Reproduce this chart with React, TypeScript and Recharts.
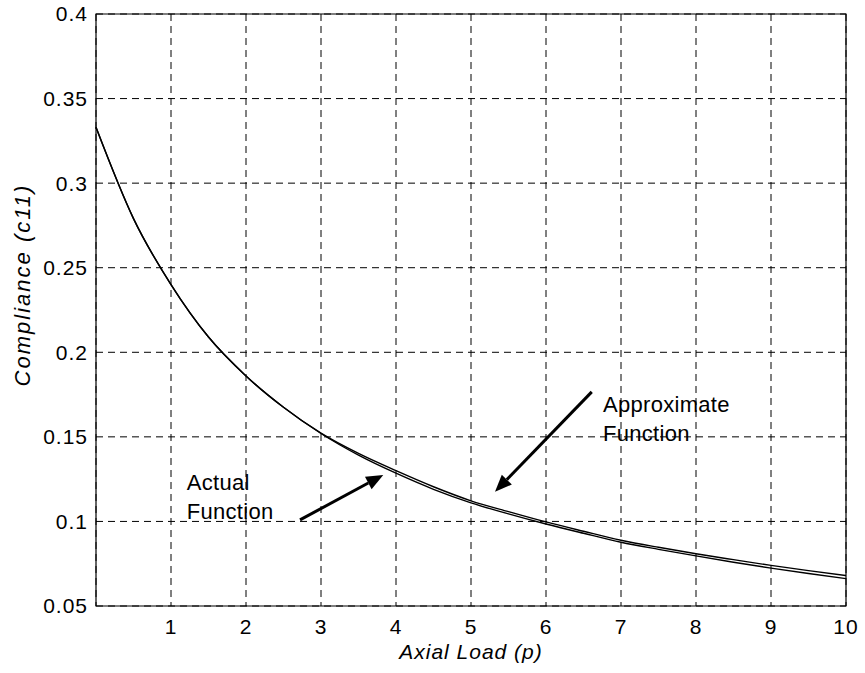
import React from 'react'
import {
  LineChart,
  Line,
  XAxis,
  YAxis,
  CartesianGrid,
  ReferenceArea,
  ReferenceLine,
  ReferenceDot,
} from 'recharts'

// axial load p, read at half-unit steps
const loads = [0, 0.5, 1, 1.5, 2, 2.5, 3, 3.5, 4, 4.5, 5, 5.5, 6, 6.5, 7, 7.5, 8, 8.5, 9, 9.5, 10]
const actualC11 = [
  0.333, 0.279, 0.24, 0.209, 0.186, 0.1675, 0.152, 0.1392, 0.1285, 0.119, 0.111, 0.1045, 0.0985, 0.093,
  0.0877, 0.0835, 0.0796, 0.0759, 0.0724, 0.0692, 0.0662,
]
const approxC11 = [
  0.333, 0.279, 0.24, 0.209, 0.186, 0.1675, 0.1522, 0.1402, 0.13, 0.1205, 0.1122, 0.1058, 0.0997,
  0.0942, 0.0889, 0.0847, 0.0809, 0.0774, 0.074, 0.0709, 0.068,
]

const xTicks = [1, 2, 3, 4, 5, 6, 7, 8, 9, 10]
const yTicks = [0.05, 0.1, 0.15, 0.2, 0.25, 0.3, 0.35, 0.4]

// annotation arrows: [from, to] in data coords
const approxArrow = [
  { x: 6.61, y: 0.1766 },
  { x: 5.32, y: 0.1175 },
]
const actualArrow = [
  { x: 2.72, y: 0.1009 },
  { x: 3.83, y: 0.1275 },
]

const data = loads.map((p, i) => ({ p, actual: actualC11[i], approx: approxC11[i] }))

const FONT = '"Liberation Sans", Arial, Helvetica, sans-serif'

const Arrow = (props: any) => {
  const { x1, y1, x2, y2 } = props
  const ang = Math.atan2(y2 - y1, x2 - x1)
  const len = 17
  const half = 7
  const bx = x2 - len * Math.cos(ang)
  const by = y2 - len * Math.sin(ang)
  const px = -Math.sin(ang) * half
  const py = Math.cos(ang) * half
  return (
    <g>
      <line x1={x1} y1={y1} x2={bx} y2={by} stroke="#000" strokeWidth={3} />
      <polygon points={`${x2},${y2} ${bx + px},${by + py} ${bx - px},${by - py}`} fill="#000" />
    </g>
  )
}

const twoLines = (lines: string[]) => (props: any) => {
  const { viewBox } = props
  return (
    <text x={viewBox.x} y={viewBox.y} fontSize={22} letterSpacing={0.3} fill="#000" fontFamily={FONT}>
      {lines.map((t, i) => (
        <tspan key={i} x={viewBox.x} dy={i === 0 ? 0 : 29}>
          {t}
        </tspan>
      ))}
    </text>
  )
}

const YLabel = () => (
  <text
    x={22}
    y={285}
    transform="rotate(-90, 22, 285)"
    textAnchor="middle"
    dominantBaseline="central"
    fontSize={22}
    letterSpacing={2}
    fontStyle="italic"
    fill="#000"
    fontFamily={FONT}
  >
    Compliance (c11)
  </text>
)

export default function App() {
  return (
    <div style={{ position: 'absolute', left: 0, top: 0, background: '#fff' }}>
      <LineChart
        width={865}
        height={673}
        data={data}
        margin={{ top: 14, right: 19, bottom: 0, left: 0 }}
        style={{ fontFamily: FONT }}
      >
        <CartesianGrid stroke="#000" strokeDasharray="7 5" strokeWidth={1} />
        <XAxis
          dataKey="p"
          type="number"
          domain={[0, 10]}
          ticks={xTicks}
          height={67}
          axisLine={false}
          tickLine={false}
          tickMargin={7}
          tick={{ fontSize: 21, fill: '#000', letterSpacing: 1 }}
          label={{
            value: 'Axial Load (p)',
            position: 'insideBottom',
            offset: 14,
            fontSize: 21,
            letterSpacing: 1,
            fontStyle: 'italic',
            fill: '#000',
          }}
        />
        <YAxis
          type="number"
          domain={[0.05, 0.4]}
          ticks={yTicks}
          width={96}
          axisLine={false}
          tickLine={false}
          tick={{ fontSize: 21, fill: '#000', letterSpacing: 1 }}
          label={{ content: YLabel }}
        />
        <ReferenceArea x1={0} x2={10} y1={0.05} y2={0.4} fill="none" stroke="#000" strokeWidth={1.2} />
        <Line
          type="monotone"
          dataKey="actual"
          stroke="#000"
          strokeWidth={1.4}
          dot={false}
          isAnimationActive={false}
        />
        <Line
          type="monotone"
          dataKey="approx"
          stroke="#000"
          strokeWidth={1.4}
          dot={false}
          isAnimationActive={false}
        />
        <ReferenceLine segment={approxArrow} shape={Arrow} />
        <ReferenceLine segment={actualArrow} shape={Arrow} />
        <ReferenceDot x={6.76} y={0.1648} r={0} fill="none" stroke="none" label={{ content: twoLines(['Approximate', 'Function']) }} />
        <ReferenceDot x={1.21} y={0.1186} r={0} fill="none" stroke="none" label={{ content: twoLines(['Actual', 'Function']) }} />
      </LineChart>
    </div>
  )
}
